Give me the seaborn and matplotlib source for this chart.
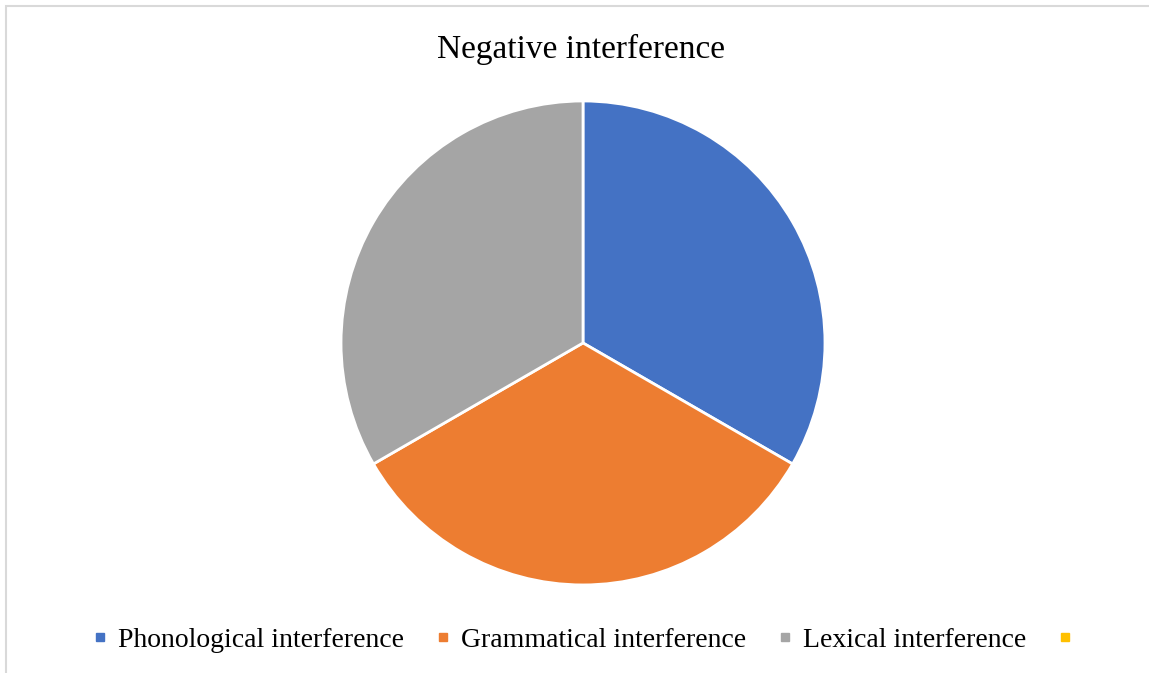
import matplotlib
matplotlib.use("Agg")
import matplotlib.pyplot as plt
import seaborn as sns
from matplotlib.lines import Line2D
from matplotlib.patches import Rectangle

categories = ["Phonological interference", "Grammatical interference", "Lexical interference", ""]
values = [1, 1, 1, 0]
colors = ["#4472C4", "#ED7D31", "#A5A5A5", "#FFC000"]
title = "Negative interference"

sns.set_theme(style="white")
plt.rcParams['font.family'] = ['Liberation Serif', 'DejaVu Serif']

fig = plt.figure(figsize=(11.49, 6.73), dpi=100)
fig.patch.set_facecolor("white")

# chart border (right and bottom fall outside the image)
fig.patches.append(Rectangle((6 / 1149, -0.05), 1.0, 1.05 - 6 / 673, transform=fig.transFigure,
                             fill=False, edgecolor="#D9D9D9", linewidth=1.5))

ax = fig.add_axes([0.2968, 0.1308, 0.4212, 0.7192])
nz = [i for i, v in enumerate(values) if v > 0]
ax.pie([values[i] for i in nz], colors=[colors[i] for i in nz], startangle=90,
       counterclock=False, radius=1,
       wedgeprops=dict(edgecolor="white", linewidth=2))
ax.set_xlim(-1.0, 1.0)
ax.set_ylim(-1.0, 1.0)
ax.set_aspect("equal")
ax.axis("off")

fig.text(0.506, 1 - 49 / 673, title, ha="center", va="center", fontsize=24, color="black")

handles = [Line2D([], [], marker="s", linestyle="none", markersize=6,
                  markerfacecolor=c, markeredgecolor=c) for c in colors]
fig.legend(handles, categories, loc="center", bbox_to_anchor=(0.511, 1 - 640 / 673),
           ncol=4, frameon=False, fontsize=20, handlelength=0.6, handletextpad=0.35,
           columnspacing=1.1, labelcolor="black")

fig.savefig("out.png", dpi=100)
